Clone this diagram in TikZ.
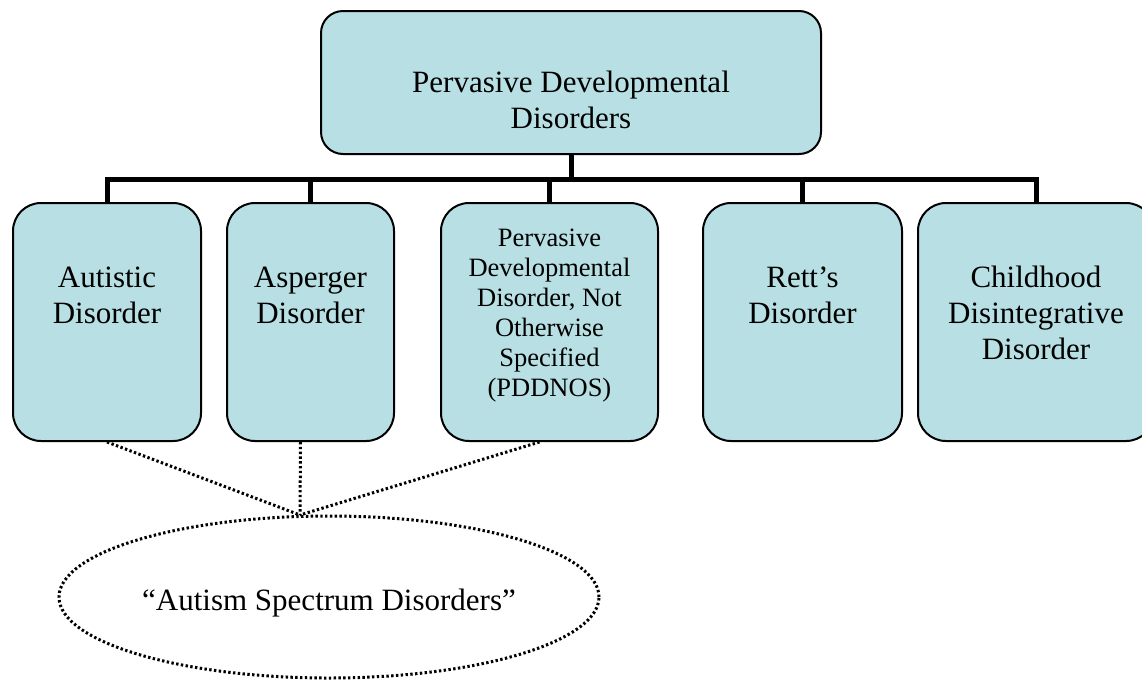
\documentclass[tikz,border=0pt]{standalone}
\usepackage{fontspec}
\setmainfont{Liberation Serif}
\usepackage{tikz}
\usetikzlibrary{positioning, shapes.geometric}

\definecolor{aqua}{RGB}{184,224,228}
\tikzset{
  disorder/.style={draw, line width=2pt, fill=aqua, rounded corners=28pt, minimum height=238pt},
  caption/.style={align=center, font=\fontsize{31}{36}\selectfont},
  smallcaption/.style={align=center, font=\fontsize{26.5}{30}\selectfont},
  branch/.style={line width=5pt},
  spectrum/.style={line width=3pt, dash pattern=on 2.4pt off 2.4pt},
}

\begin{document}
\begin{tikzpicture}[x=1pt, y=-1pt]
		\clip (0,0) rectangle (1142,681);
		\node[disorder, rounded corners=22pt, minimum width=500pt, minimum height=143pt,
			label={[caption, name=pddL, yshift=-17pt]center:Pervasive Developmental\\Disorders}] (pdd) at (571,82.5) {};
		
		\node[disorder, minimum width=188pt,
			label={[caption, name=autL, yshift=27pt]center:Autistic\\Disorder}] (aut) at (107,322) {};
		\node[disorder, minimum width=167pt, right=24pt of aut,
			label={[caption, name=aspL, yshift=27pt]center:Asperger\\Disorder}] (asp) {};
		\node[disorder, minimum width=217pt, right=45pt of asp,
			label={[smallcaption, name=pdnL, yshift=6.5pt]center:Pervasive\\Developmental\\Disorder, Not\\Otherwise\\Specified\\(PDDNOS)}] (pdn) {};
		\node[disorder, minimum width=199pt, right=43pt of pdn,
			label={[caption, name=retL, yshift=27pt]center:Rett’s\\Disorder}] (ret) {};
		\node[disorder, minimum width=236pt, right=14pt of ret,
			label={[caption, name=chdL, yshift=9pt]center:Childhood\\Disintegrative\\Disorder}] (chd) {};
		
		\draw[branch] (pdd.south) -- ++(0,24) -| (aut.north);
		\draw[branch] (pdd.south) -- ++(0,24) -| (asp.north);
		\draw[branch] (pdd.south) -- ++(0,24) -| (pdn.north);
		\draw[branch] (pdd.south) -- ++(0,24) -| (ret.north);
		\draw[branch] (pdd.south) -- ++(0,24) -| (chd.north);
		
		\node[draw, ellipse, spectrum, minimum width=540pt, minimum height=162pt,
			label={[caption, name=asdL, yshift=-6pt]center:“Autism Spectrum Disorders”}] (asd) at (329,597) {};
		\coordinate (apex) at (300,515);
		
		\draw[spectrum] (aut.south) -- (apex);
		\draw[spectrum] ([xshift=-10pt]asp.south) -- (apex);
		\draw[spectrum] ([xshift=-10pt]pdn.south) -- (apex);
	\end{tikzpicture}
\end{document}
